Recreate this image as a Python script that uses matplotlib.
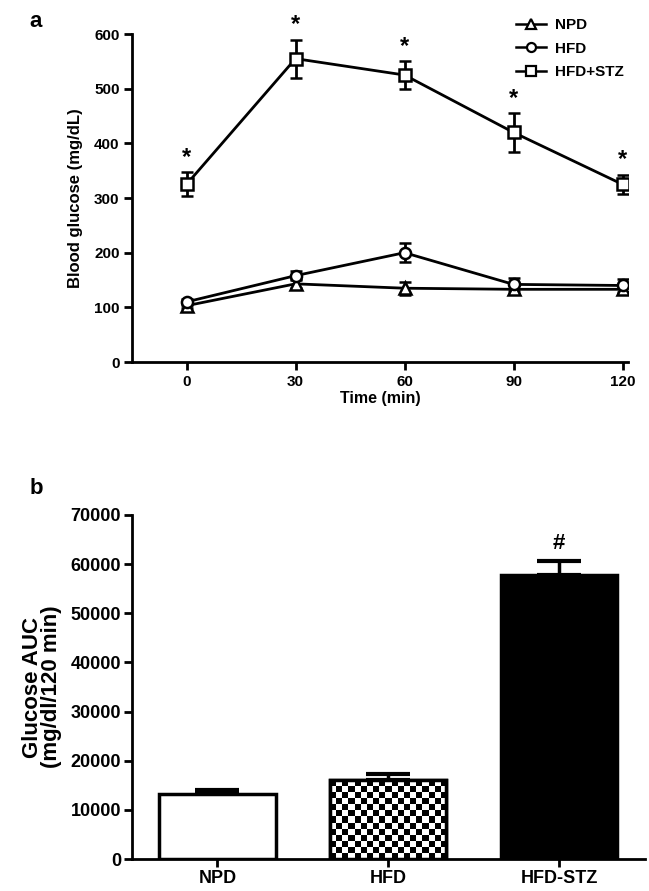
import numpy as np
import matplotlib
matplotlib.use("Agg")
import matplotlib.pyplot as plt
from matplotlib.lines import Line2D

plt.rcParams['font.family'] = ['Liberation Sans', 'DejaVu Sans']
plt.rcParams['font.weight'] = 'bold'

# Panel a data
time_min = [0, 30, 60, 90, 120]
npd_mean = [103, 143, 135, 133, 133]
npd_err = [5, 8, 12, 8, 8]
hfd_mean = [110, 158, 200, 142, 140]
hfd_err = [5, 8, 17, 12, 12]
stz_mean = [325, 555, 525, 420, 325]
stz_err = [22, 35, 25, 35, 18]
series_labels = ["NPD", "HFD", "HFD+STZ"]
series_markers = ['^', 'o', 's']

# Panel b data
groups = ["NPD", "HFD", "HFD-STZ"]
auc_mean = [13300, 16000, 57800]
auc_err = [800, 1300, 2800]

fig = plt.figure(figsize=(6.49, 8.91), dpi=100)

# ---------- Panel a ----------
ax1 = fig.add_axes([0.2034, 0.5937, 0.7642, 0.3681])
lw = 2.0
common = dict(color='black', lw=lw, capsize=4, elinewidth=lw, capthick=lw,
              mfc='white', mec='black', mew=1.8, ms=8)
for means, errs, mk in zip([npd_mean, hfd_mean, stz_mean], [npd_err, hfd_err, stz_err], series_markers):
    ax1.errorbar(time_min, means, yerr=errs, marker=mk, **common)
for x, m, e in zip(time_min, stz_mean, stz_err):
    ax1.text(x, m + e + 6, '*', ha='center', va='bottom', fontsize=17, fontweight='bold')

ax1.set_xlim(-15, 121.5)
ax1.set_ylim(0, 600)
ax1.set_xticks(time_min)
ax1.set_yticks([0, 100, 200, 300, 400, 500, 600])
ax1.spines['top'].set_visible(False)
ax1.spines['right'].set_visible(False)
for s in ['left', 'bottom']:
    ax1.spines[s].set_linewidth(2)
ax1.tick_params(width=2, length=6, labelsize=11, direction='out', pad=3)
ax1.set_ylabel('Blood glucose (mg/dL)', fontsize=12, fontweight='bold', labelpad=8)
ax1.set_xlabel('Time (min)', fontsize=11.5, fontweight='bold', labelpad=2)
handles = [Line2D([], [], color='black', lw=1.8, marker=mk, mfc='white', mec='black',
                  mew=1.6, ms=6.5) for mk in series_markers]
leg = ax1.legend(handles, series_labels, loc='upper right', bbox_to_anchor=(1.02, 1.09),
                 frameon=False, fontsize=11, handlelength=2.0, handletextpad=0.6,
                 labelspacing=0.62)
for t in leg.get_texts():
    t.set_fontweight('bold')
fig.text(0.045, 0.988, 'a', fontsize=16, fontweight='bold', va='top', ha='left')

# ---------- Panel b ----------
ax2 = fig.add_axes([0.2034, 0.0359, 0.79, 0.3861])
xpos = np.arange(len(groups))
colors = ['white', 'white', 'black']
bars = ax2.bar(xpos, auc_mean, width=0.68, color=colors, edgecolor='black', linewidth=2.5, zorder=2)
ax2.errorbar(xpos, auc_mean, yerr=[np.zeros(len(auc_err)), auc_err], fmt='none',
             ecolor='black', elinewidth=2.5, capsize=16, capthick=3, zorder=1)
ax2.set_xlim(-0.5, 2.5)
ax2.set_ylim(0, 70000)
ax2.set_yticks(np.arange(0, 70001, 10000))
ax2.set_xticks(xpos)
ax2.set_xticklabels(groups)
ax2.spines['top'].set_visible(False)
ax2.spines['right'].set_visible(False)
for s in ['left', 'bottom']:
    ax2.spines[s].set_linewidth(2)
ax2.tick_params(width=2, length=6, labelsize=13, direction='out', pad=2)
ax2.set_ylabel('Glucose AUC\n(mg/dl/120 min)', fontsize=16, fontweight='bold', labelpad=6,
               linespacing=0.85)
ax2.text(xpos[2], auc_mean[2] + auc_err[2] + 1500, '#', ha='center', va='bottom',
         fontsize=16, fontweight='bold')
fig.text(0.045, 0.463, 'b', fontsize=16, fontweight='bold', va='top', ha='left')

# checkerboard fill for HFD bar
fig.canvas.draw()
b = bars[1]
x0, w, hgt = b.get_x(), b.get_width(), b.get_height()
p0 = ax2.transData.transform((x0, 0))
p1 = ax2.transData.transform((x0 + w, hgt))
ncol = max(1, int(round((p1[0] - p0[0]) / 6.0)))
nrow = max(1, int(round((p1[1] - p0[1]) / 6.0)))
checker = (np.add.outer(np.arange(nrow), np.arange(ncol)) % 2).astype(float)
im = ax2.imshow(checker, cmap='gray', extent=(x0, x0 + w, 0, hgt), aspect='auto',
                interpolation='nearest', zorder=2.5)
im.set_clip_path(b)
ax2.bar([xpos[1]], [auc_mean[1]], width=0.68, color='none', edgecolor='black', linewidth=2.5, zorder=3)
ax2.set_xlim(-0.5, 2.5)
ax2.set_ylim(0, 70000)

fig.savefig('out.png', dpi=100)
